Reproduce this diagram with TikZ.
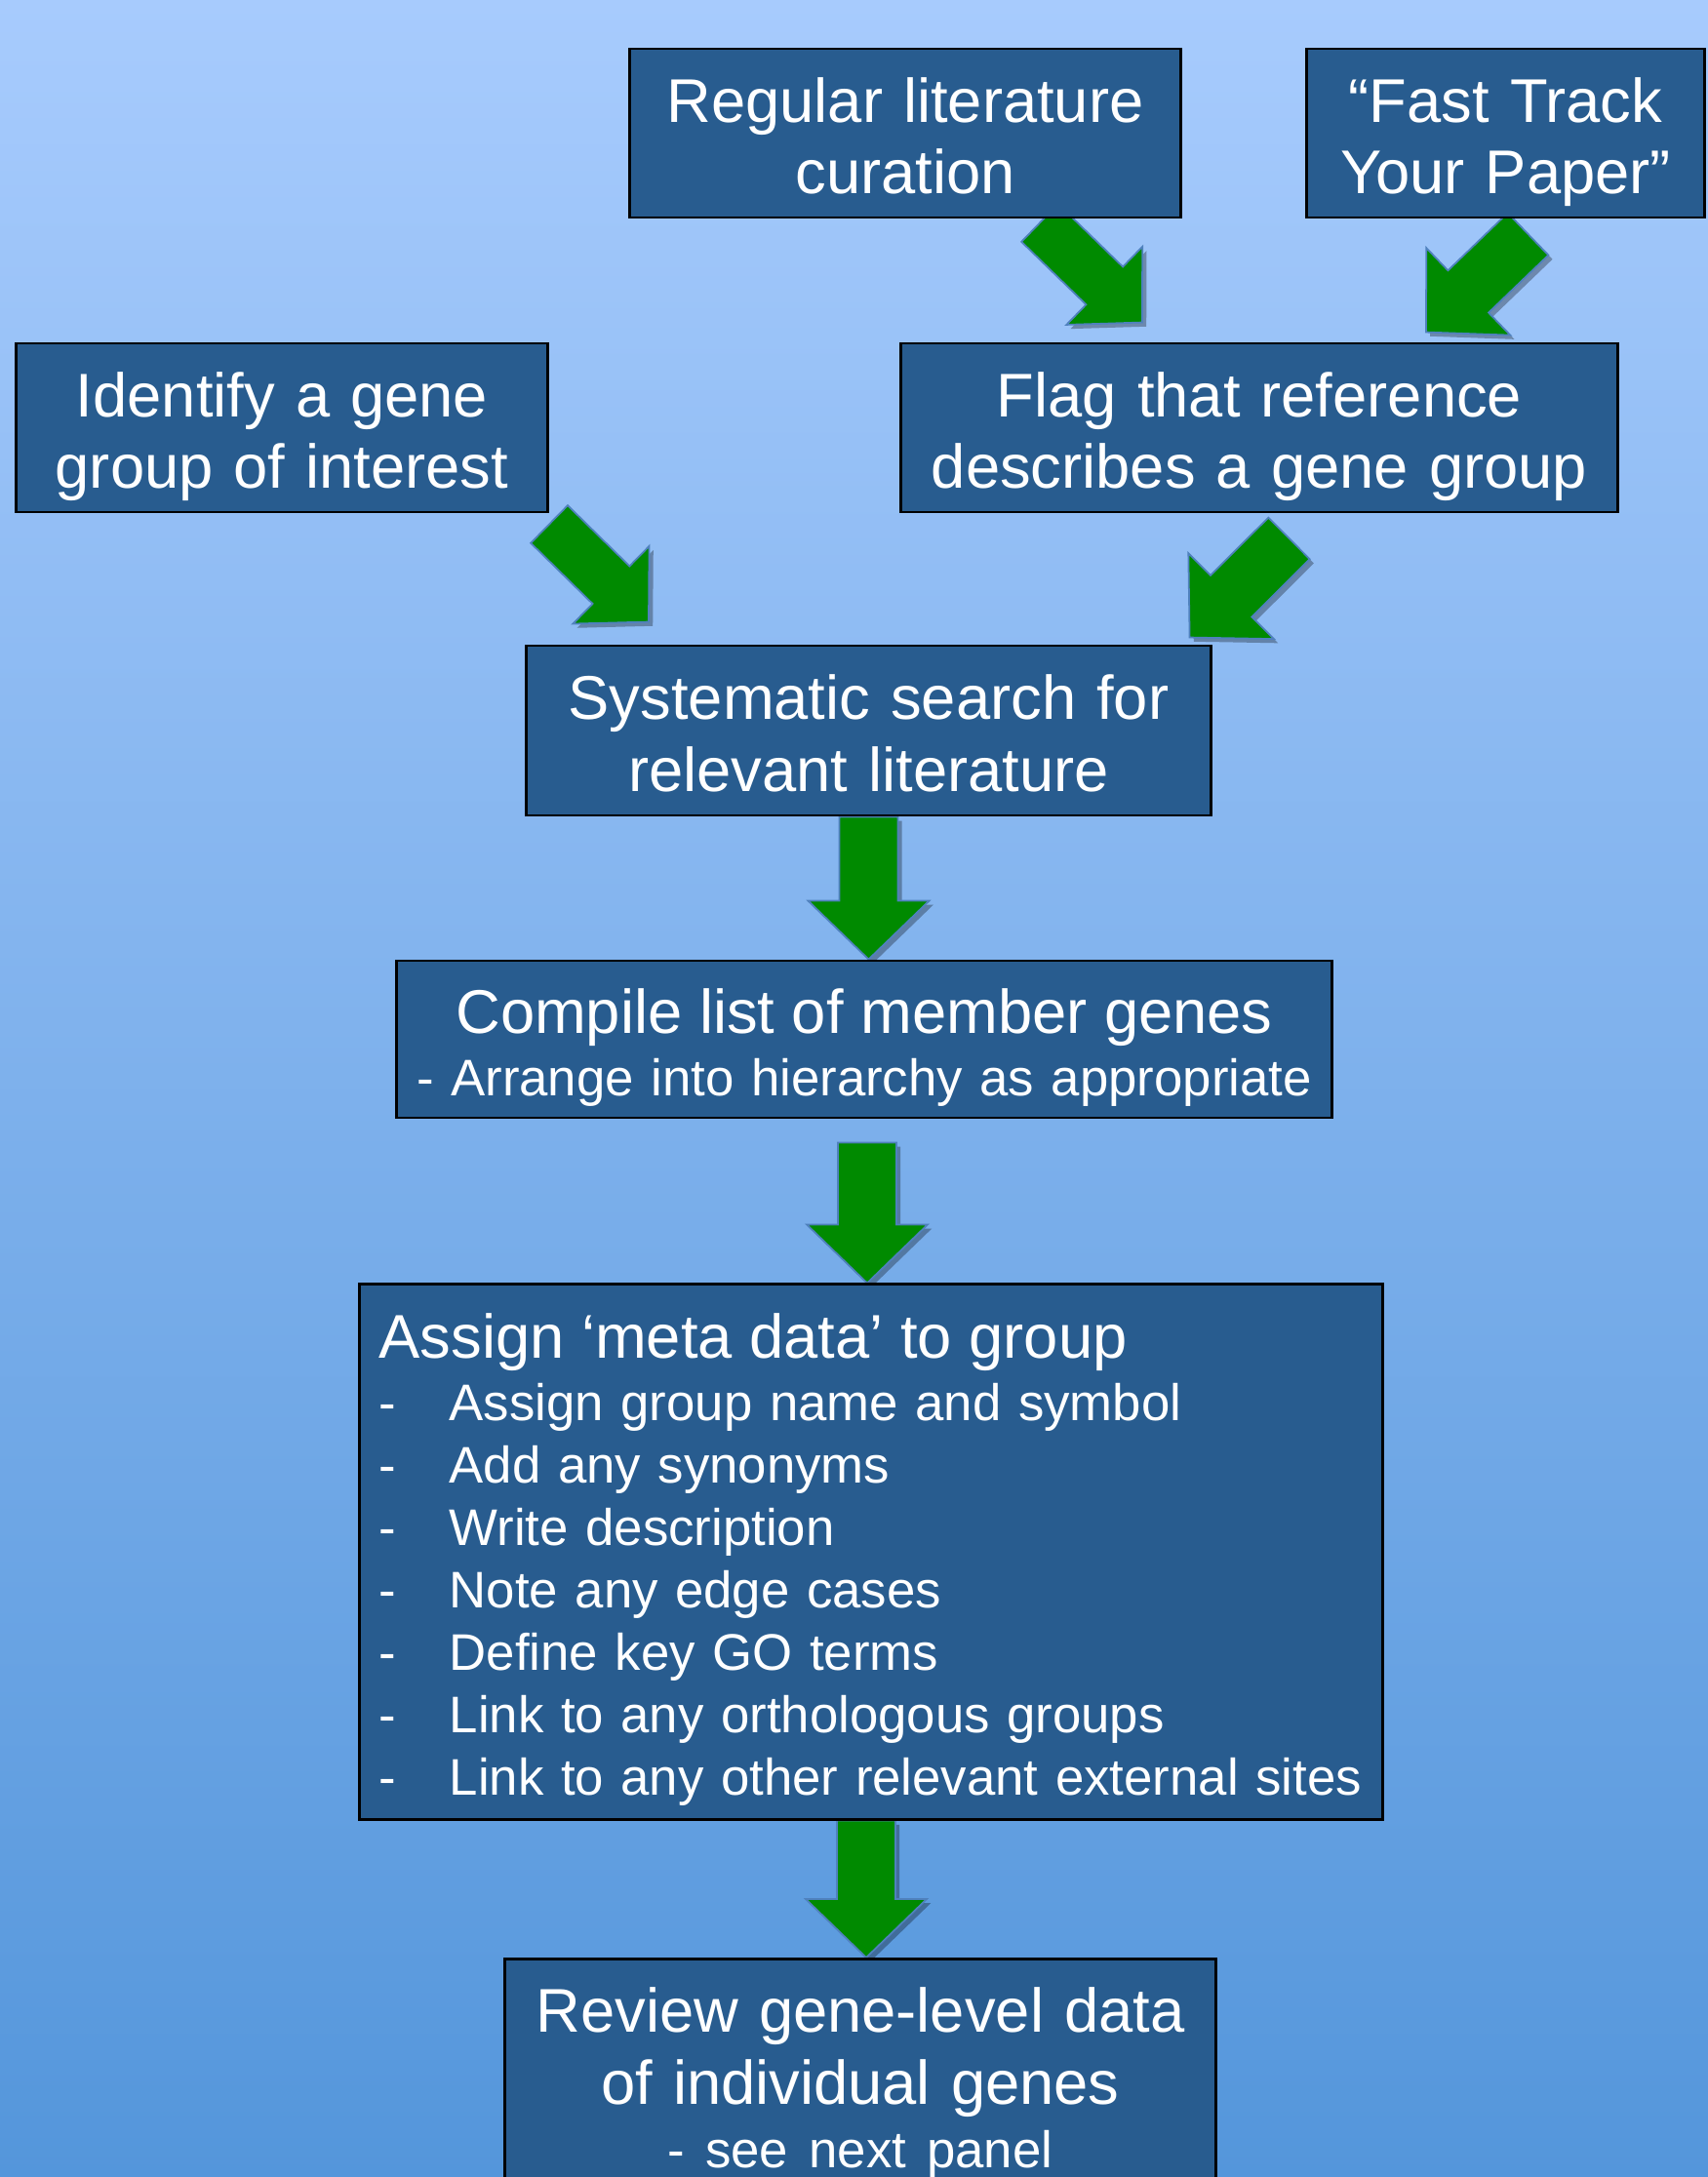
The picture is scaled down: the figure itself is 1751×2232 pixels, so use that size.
\documentclass[tikz,border=0pt]{standalone}
\usepackage{fontspec}
\setmainfont{Liberation Sans}
\usepackage{tikz}
\usetikzlibrary{calc, shadows, backgrounds}
\definecolor{bgtop}{RGB}{167,203,253}
\definecolor{bgbottom}{RGB}{84,150,219}
\definecolor{boxblue}{RGB}{40,92,143}
\definecolor{arrowgreen}{RGB}{0,138,0}
\definecolor{arrowedge}{RGB}{79,129,189}
\newcommand{\bigfont}{\fontsize{18}{21}\selectfont}
\newcommand{\itemfont}{\fontsize{15}{18.2}\selectfont}
\newcommand{\dashitem}{\makebox[0.72cm][l]{-}}
\tikzstyle{process} = [rectangle,
    draw=black,
    line width=0.8pt,
    fill=boxblue,
    text=white,
    inner xsep=0.2cm,
    inner ysep=0pt,
    align=center,
    font=\bigfont,
    execute at begin node={\rule{0pt}{19pt}},
    execute at end node={\rule[-4.5pt]{0pt}{4.5pt}}]
\tikzstyle{greenarrow} = [fill=arrowgreen,
    draw=arrowedge,
    line width=0.5pt,
    drop shadow={shadow xshift=1.2pt, shadow yshift=-1.2pt, opacity=0.3, fill=black}]
\newcommand{\blockarrow}[3][1]{%
    \coordinate (hb) at ($(#3)!#1*0.6cm!(#2)$);
    \path[greenarrow] ($(#2)!#1*0.3cm!90:(#3)$) -- ($(hb)!#1*0.3cm!90:(#3)$)
        -- ($(hb)!#1*0.62cm!90:(#3)$) -- (#3) -- ($(hb)!#1*0.62cm!-90:(#3)$)
        -- ($(hb)!#1*0.3cm!-90:(#3)$) -- ($(#2)!#1*0.3cm!-90:(#3)$) -- cycle;}

\begin{document}
\begin{tikzpicture}[x=0.01cm, y=-0.01cm]
        \useasboundingbox (0,0) rectangle (1751,2232);

        \node (regular) [process, minimum width=5.64cm, minimum height=1.73cm, text width=5.24cm] at (928,136.5)
        {Regular literature\\curation};
        \node (fasttrack) [process, minimum width=4.07cm, minimum height=1.73cm, text width=3.67cm] at (1543.5,136.5)
        {“Fast Track\\Your Paper”};
        \node (identify) [process, minimum width=5.44cm, minimum height=1.73cm, text width=5.04cm] at (289,438.5)
        {Identify a gene\\group of interest};
        \node (flag) [process, minimum width=7.34cm, minimum height=1.73cm, text width=6.94cm] at (1291,438.5)
        {Flag that reference\\describes a gene group};
        \node (search) [process, minimum width=7.01cm, minimum height=1.74cm, text width=6.61cm] at (890.5,749)
        {Systematic search for\\relevant literature};
        \node (compile) [process, minimum width=9.58cm, minimum height=1.61cm, text width=9.18cm, font=\itemfont] at (886,1065.5)
        {{\bigfont Compile list of member genes}\\- Arrange into hierarchy as appropriate};
        \node (assign) [process, minimum width=10.48cm, minimum height=5.48cm, text width=10.08cm, align=left, font=\itemfont] at (893,1591)
        {{\bigfont Assign ‘meta data’ to group}\\
        \dashitem Assign group name and symbol\\
        \dashitem Add any synonyms\\
        \dashitem Write description\\
        \dashitem Note any edge cases\\
        \dashitem Define key GO terms\\
        \dashitem Link to any orthologous groups\\
        \dashitem Link to any other relevant external sites};
        \node (review) [process, anchor=north, minimum width=7.28cm, text width=6.88cm, inner ysep=0.08cm] at (882,2007)
        {Review gene-level data\\of individual genes\\[-2.3pt]{\itemfont - see next panel}};

        \coordinate (r1) at ($(regular.south)+(138,4)$);
        \coordinate (f1) at ($(flag.north)+(-120,-20)$);
        \coordinate (r2) at ($(fasttrack.south)+(23,15.5)$);
        \coordinate (f2) at ($(flag.north)+(171,-10)$);
        \coordinate (i1) at ($(identify.south east)+(0.5,11)$);
        \coordinate (s1) at ($(search.north)+(-225.5,-23)$);
        \coordinate (i2) at ($(flag.south)+(30.5,25.5)$);
        \coordinate (s2) at ($(search.north east)+(-23,-7)$);
        \coordinate (c1) at (search.south |- compile.north);
        \coordinate (c2) at ($(compile.south)+(3,24)$);
        \coordinate (a1) at (c2 |- assign.north);
        \coordinate (a2) at ($(assign.south)+(-5,0)$);
        \coordinate (v1) at (a2 |- review.north);

        \begin{pgfonlayer}{background}
        \shade[top color=bgtop, bottom color=bgbottom] (0,0) rectangle (1751,2232);
        \blockarrow[0.9]{r1}{f1}
        \blockarrow{r2}{f2}
        \blockarrow[0.9]{i1}{s1}
        \blockarrow{i2}{s2}
        \blockarrow{search.south}{c1}
        \blockarrow{c2}{a1}
        \blockarrow{a2}{v1}
        \end{pgfonlayer}
    \end{tikzpicture}
\end{document}
